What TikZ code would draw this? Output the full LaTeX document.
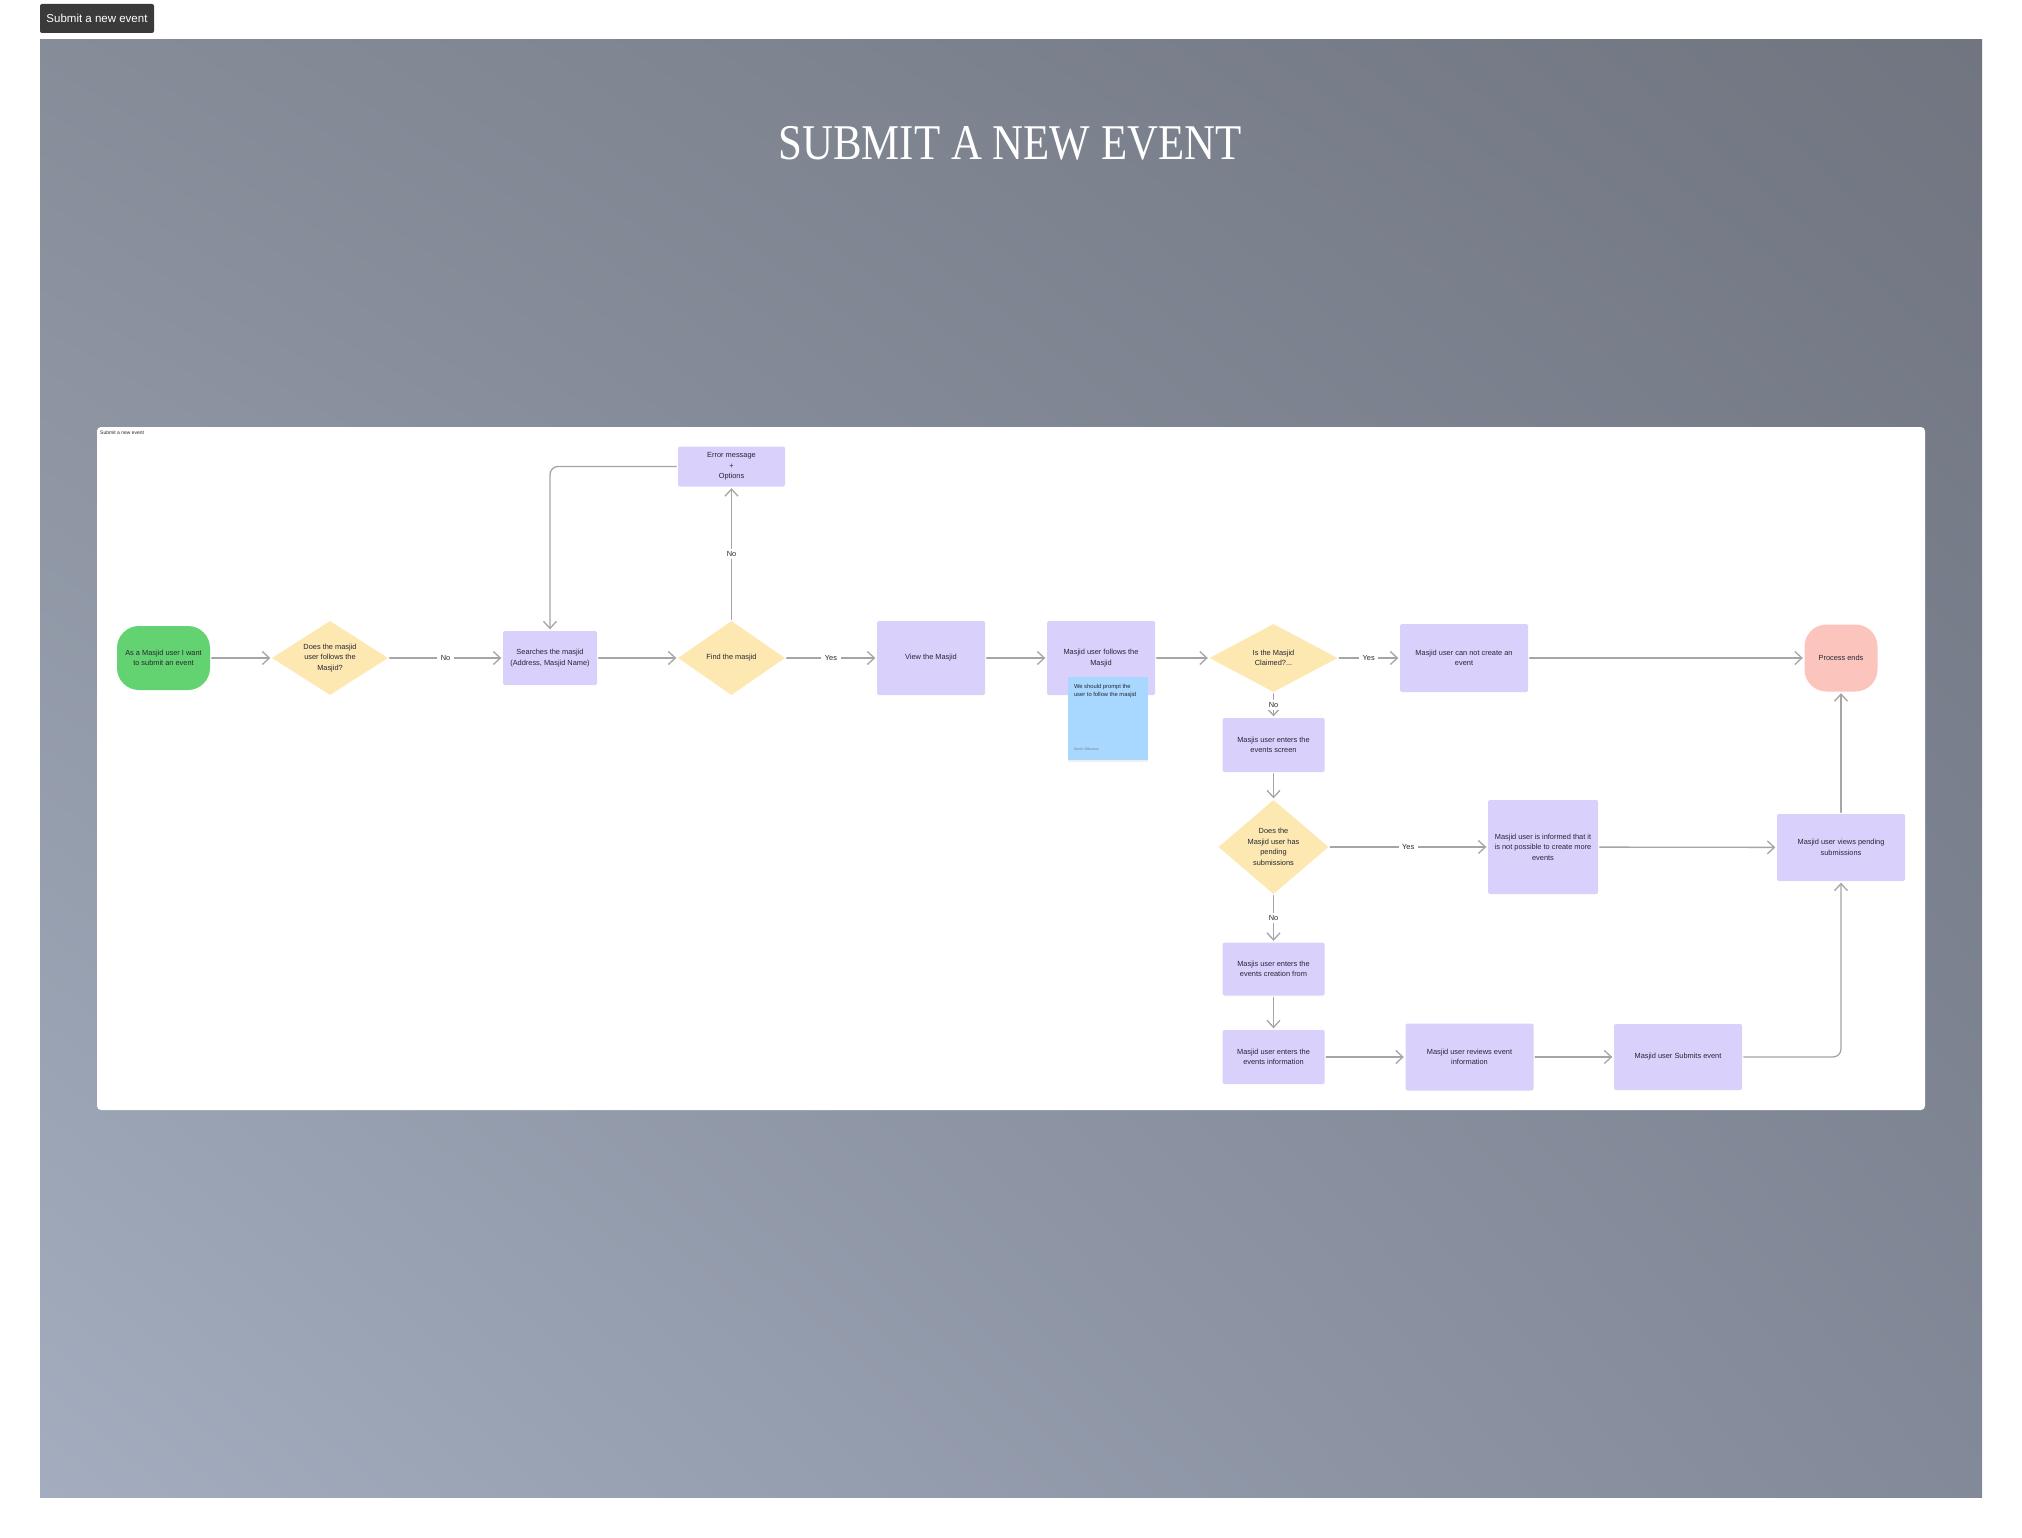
\documentclass[tikz,border=0pt]{standalone}
\usepackage{fontspec}
\setmainfont{Liberation Sans}
\newfontfamily\titlefont{Liberation Serif}
\usepackage{tikz}
\usetikzlibrary{arrows.meta,shapes.geometric,shadows,shadings}
\usepackage{xcolor}
\definecolor{ink}{RGB}{38,38,52}
\definecolor{lilac}{RGB}{218,208,252}
\definecolor{askyellow}{RGB}{253,232,178}
\definecolor{startgreen}{RGB}{98,211,112}
\definecolor{endpink}{RGB}{251,197,189}
\definecolor{noteblue}{RGB}{168,216,255}
\definecolor{linegray}{RGB}{165,165,165}
\definecolor{btngray}{RGB}{58,58,58}
\definecolor{bgUL}{RGB}{134,141,153}
\definecolor{bgUR}{RGB}{112,117,128}
\definecolor{bgLL}{RGB}{163,173,191}
\definecolor{bgLR}{RGB}{130,137,152}
\tikzset{
  sz/.style 2 args={minimum width=#1pt,minimum height=#2pt},
  txt/.style={font=\fontsize{7.4}{10.5}\selectfont,text=ink,align=center,inner sep=0pt},
  proc/.style={txt,rectangle,fill=lilac,rounded corners=1.5pt},
  ask/.style={txt,diamond,shape aspect=1.2,fill=askyellow},
  term/.style={txt,rectangle,rounded corners=22pt},
  flow/.style={->,draw=linegray,line width=1.3pt,shorten >=1.5pt,shorten <=1.5pt},
  tag/.style={txt,fill=white,inner xsep=3.5pt,inner ysep=2.5pt}
}

\begin{document}
\begin{tikzpicture}[x=1pt,y=-1pt,>={Straight Barb[length=7pt,width=13pt]},line cap=round]
\useasboundingbox (0,0) rectangle (2022,1538);
\fill[white] (0,0) rectangle (2022,1538);
% backdrop
\shade[upper left=bgUL,upper right=bgUR,lower left=bgLL,lower right=bgLR] (40,40) rectangle (1982,1497);
\node[fill=btngray,rounded corners=2pt,sz={114}{29},inner sep=0pt,text=white,font=\fontsize{11.5}{12}\selectfont] (button) at (97,18.5) {Submit a new event};
\node[font=\titlefont\fontsize{50}{50}\selectfont,text=white,xscale=0.857,anchor=base] (title) at (1010,160) {SUBMIT A NEW EVENT};
% board
\fill[white,rounded corners=4pt] (97,427) rectangle (1925,1110);
\node[font=\fontsize{5}{6}\selectfont,text=ink,anchor=west,inner sep=0pt] (board) at (100,433) {Submit a new event};

% main row
\node[term,fill=startgreen,sz={93}{64}] (start) at (163.5,658) {As a Masjid user I want\\to submit an event};
\node[ask,sz={116}{74}] (d1) at (330,658) {Does the masjid\\user follows the\\Masjid?};
\node[proc,sz={94}{54}] (search) at (550,658) {Searches the masjid\\(Address, Masjid Name)};
\node[ask,sz={107}{74}] (d2) at (731.5,658) {Find the masjid};
\node[proc,sz={107}{40}] (error) at (731.5,466.5) {Error message\\+\\Options};
\node[proc,sz={108}{74}] (view) at (931,658) {View the Masjid};
\node[proc,sz={108}{74}] (follows) at (1101,658) {Masjid user follows the\\Masjid};
\node[ask,sz={128}{68}] (d3) at (1273.5,658) {Is the Masjid\\Claimed?...};
\node[proc,sz={128}{68}] (cannot) at (1464,658) {Masjid user can not create an\\event};
\node[term,fill=endpink,sz={73}{67}] (endnode) at (1841,658) {Process ends};

% sticky note
\node[rectangle,fill=noteblue,sz={80}{83},drop shadow={shadow xshift=0pt,shadow yshift=-2pt,opacity=.12}] (note) at (1108,718.5) {};
\node[anchor=north west,align=left,inner sep=0pt,text=ink,font=\fontsize{5.8}{8.3}\selectfont] (notetext) at ([shift={(6,7)}]note.north west) {We should prompt the\\user to follow the masjid};
\node[anchor=south west,inner sep=0pt,text=ink!60,font=\fontsize{3.6}{4}\selectfont] (noteauthor) at ([shift={(6,-9)}]note.south west) {Kevin Villanova};

% column below the claim check
\node[proc,sz={102}{54}] (screen) at (1273.5,745) {Masjis user enters the\\events screen};
\node[ask,sz={110}{94}] (d4) at (1273.5,847) {Does the\\Masjid user has\\pending\\submissions};
\node[proc,sz={110}{94}] (informed) at (1543,847) {Masjid user is informed that it\\is not possible to create more\\events};
\node[proc,sz={128}{67}] (pending) at (1841,847.5) {Masjid user views pending\\submissions};
\node[proc,sz={102}{53}] (creation) at (1273.5,969) {Masjis user enters the\\events creation from};
\node[proc,sz={102}{54}] (info) at (1273.5,1057) {Masjid user enters the\\events information};
\node[proc,sz={128}{67}] (reviews) at (1469.5,1057) {Masjid user reviews event\\information};
\node[proc,sz={128}{66}] (submits) at (1678,1057) {Masjid user Submits event};

% connectors
\draw[flow] (start) -- (d1);
\draw[flow] (d1) -- node[tag]{No} (search);
\draw[flow] (search) -- (d2);
\draw[flow] (d2) -- node[tag]{No} (error);
\draw[flow,rounded corners=8pt] (error) -| (search);
\draw[flow] (d2) -- node[tag]{Yes} (view);
\draw[flow] (view) -- (follows);
\draw[flow] (follows) -- (d3);
\draw[flow] (d3) -- node[tag]{Yes} (cannot);
\draw[flow] (cannot) -- (endnode);
\draw[flow] (d3) -- node[tag]{No} (screen);
\draw[flow] (screen) -- (d4);
\draw[flow] (d4) -- node[tag]{Yes} (informed);
\draw[flow] (informed) -- (pending);
\draw[flow] (d4) -- node[tag]{No} (creation);
\draw[flow] (creation) -- (info);
\draw[flow] (info) -- (reviews);
\draw[flow] (reviews) -- (submits);
\draw[flow,rounded corners=8pt] (submits) -| (pending);
\draw[flow] (pending) -- (endnode);
\end{tikzpicture}
\end{document}
